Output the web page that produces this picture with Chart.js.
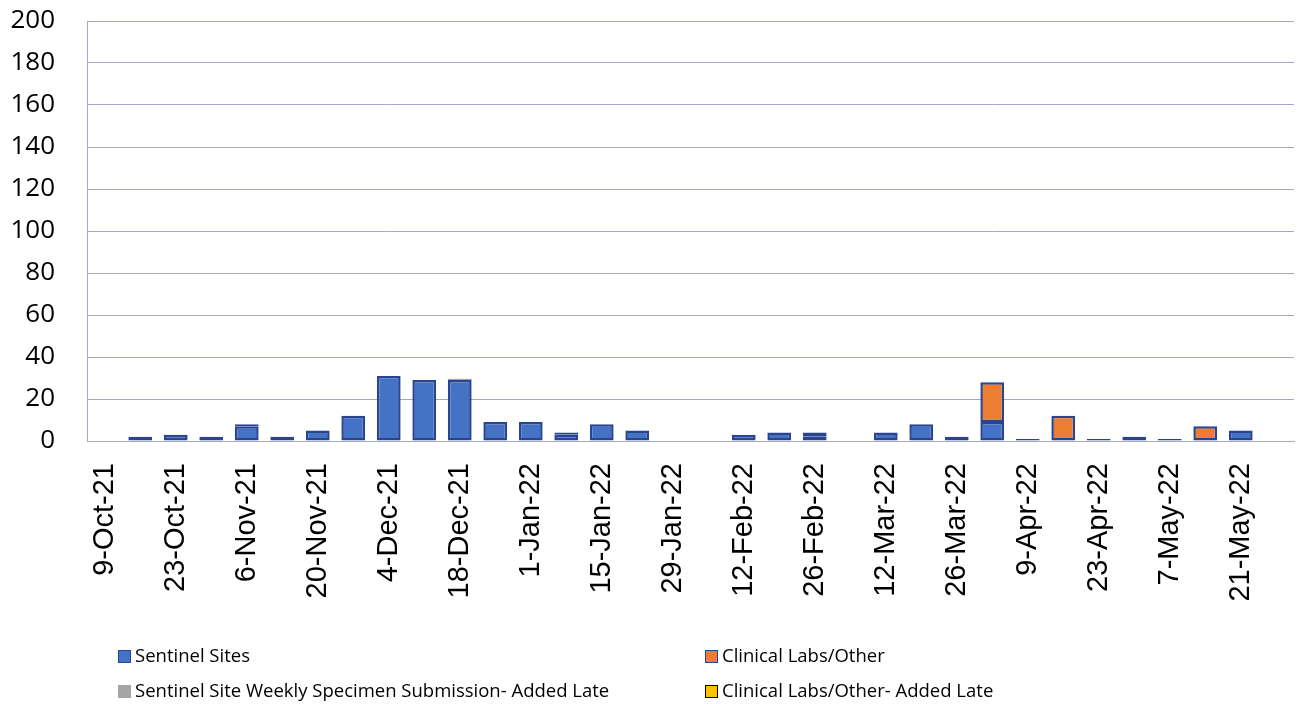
<!DOCTYPE html>
<html>
<head>
<meta charset="utf-8">
<script src="https://cdn.jsdelivr.net/npm/chart.js@4"></script>
<style>
  body { margin: 0; background: #fff; }
  #wrap { position: relative; width: 1301px; height: 704px; }
  .leg { position: absolute; font-family: "Open Sans", sans-serif; font-size: 18.5px; color: #000; white-space: nowrap; line-height: 20px; }
  .leg span { display: inline-block; width: 11px; height: 11px; margin-right: 4px; vertical-align: -1px; }
</style>
</head>
<body>
<div id="wrap">
  <canvas id="chart" width="1301" height="704"></canvas>
  <div class="leg" style="left:118px; top:645px;"><span style="background:#4472C4;border:1px solid #2A4590;"></span>Sentinel Sites</div>
  <div class="leg" style="left:705px; top:645px;"><span style="background:#ED7D31;border:1px solid #2A4590;"></span>Clinical Labs/Other</div>
  <div class="leg" style="left:118px; top:680px;"><span style="background:#A5A5A5;border:1px solid #A5A5A5;"></span>Sentinel Site Weekly Specimen Submission- Added Late</div>
  <div class="leg" style="left:705px; top:680px;"><span style="background:#FFC000;border:1px solid #000;"></span>Clinical Labs/Other- Added Late</div>
</div>
<script>
var weeks = ['9-Oct-21', '16-Oct-21', '23-Oct-21', '30-Oct-21', '6-Nov-21', '13-Nov-21', '20-Nov-21', '27-Nov-21',
    '4-Dec-21', '11-Dec-21', '18-Dec-21', '25-Dec-21', '1-Jan-22', '8-Jan-22', '15-Jan-22', '22-Jan-22',
    '29-Jan-22', '5-Feb-22', '12-Feb-22', '19-Feb-22', '26-Feb-22', '5-Mar-22', '12-Mar-22', '19-Mar-22',
    '26-Mar-22', '2-Apr-22', '9-Apr-22', '16-Apr-22', '23-Apr-22', '30-Apr-22', '7-May-22', '14-May-22',
    '21-May-22', '28-May-22'];
var sentinel = [0, 2, 3, 2, 7, 2, 5, 12, 31, 29, 29, 9, 9, 3, 8, 5, 0, 0, 3, 4, 2, 0, 4, 8, 2, 9, 1, 0, 1, 2, 1, 0, 5, 0];
var sentinelLate = [0, 0, 0, 0, 0, 0, 0, 0, 0, 0, 0.6, 0, 0, 0, 0, 0, 0, 0, 0, 0, 0, 0, 0, 0, 0, 0, 0, 0, 0, 0, 0, 0, 0, 0];
var clinical = [0, 0, 0, 0, 1, 0, 0, 0, 0, 0, 0, 0, 0, 1, 0, 0, 0, 0, 0, 0, 2, 0, 0, 0, 0, 19, 0, 12, 0, 0, 0, 7, 0, 0];
var clinicalLate = [0, 0, 0, 0, 0, 0, 0, 0, 0, 0, 0, 0, 0, 0, 0, 0, 0, 0, 0, 0, 0, 0, 0, 0, 0, 0, 0, 0, 0, 0, 0, 0, 0, 0];

var gridColor = '#A3A7CB';
var edge = '#2A4590';

var ctx = document.getElementById('chart').getContext('2d');
var myChart = new Chart(ctx, {
    type: 'bar',
    data: {
        labels: weeks,
        datasets: [
            { label: 'Sentinel Sites', data: sentinel, backgroundColor: '#4472C4', borderColor: edge, borderWidth: 2.5, borderSkipped: false },
            { label: 'Sentinel Site Weekly Specimen Submission- Added Late', data: sentinelLate, backgroundColor: '#A5A5A5', borderColor: '#A5A5A5', borderWidth: 0 },
            { label: 'Clinical Labs/Other', data: clinical, backgroundColor: '#ED7D31', borderColor: edge, borderWidth: 2.5, borderSkipped: false },
            { label: 'Clinical Labs/Other- Added Late', data: clinicalLate, backgroundColor: '#FFC000', borderColor: '#000', borderWidth: 2, borderSkipped: false }
        ]
    },
    options: {
        responsive: false,
        animation: false,
        layout: { padding: { left: 0, right: 7, top: 21, bottom: 0 } },
        datasets: { bar: { categoryPercentage: 1, barPercentage: 0.67 } },
        plugins: {
            legend: { display: false },
            tooltip: { enabled: false }
        },
        scales: {
            x: {
                stacked: true,
                grid: { display: false },
                border: { display: true, color: gridColor, width: 1 },
                afterFit: function (scale) {
                    scale.height = 263;
                    scale.paddingLeft = 0;
                    scale.paddingRight = 0;
                },
                ticks: {
                    autoSkip: false,
                    maxRotation: 90,
                    minRotation: 90,
                    padding: 14,
                    color: '#000',
                    font: { family: 'Liberation Sans', size: 29 },
                    callback: function (v, i) { return i % 2 == 0 ? weeks[i] : ''; }
                }
            },
            y: {
                stacked: true,
                min: 0,
                max: 200,
                grid: { color: gridColor, drawTicks: false },
                border: { display: true, color: gridColor, width: 1 },
                afterFit: function (scale) {
                    scale.width = 87;
                    scale.paddingTop = 0;
                    scale.paddingBottom = 0;
                },
                ticks: {
                    stepSize: 20,
                    padding: 32,
                    color: '#000',
                    font: { family: 'Open Sans', size: 26 }
                }
            }
        }
    }
});
</script>
</body>
</html>
